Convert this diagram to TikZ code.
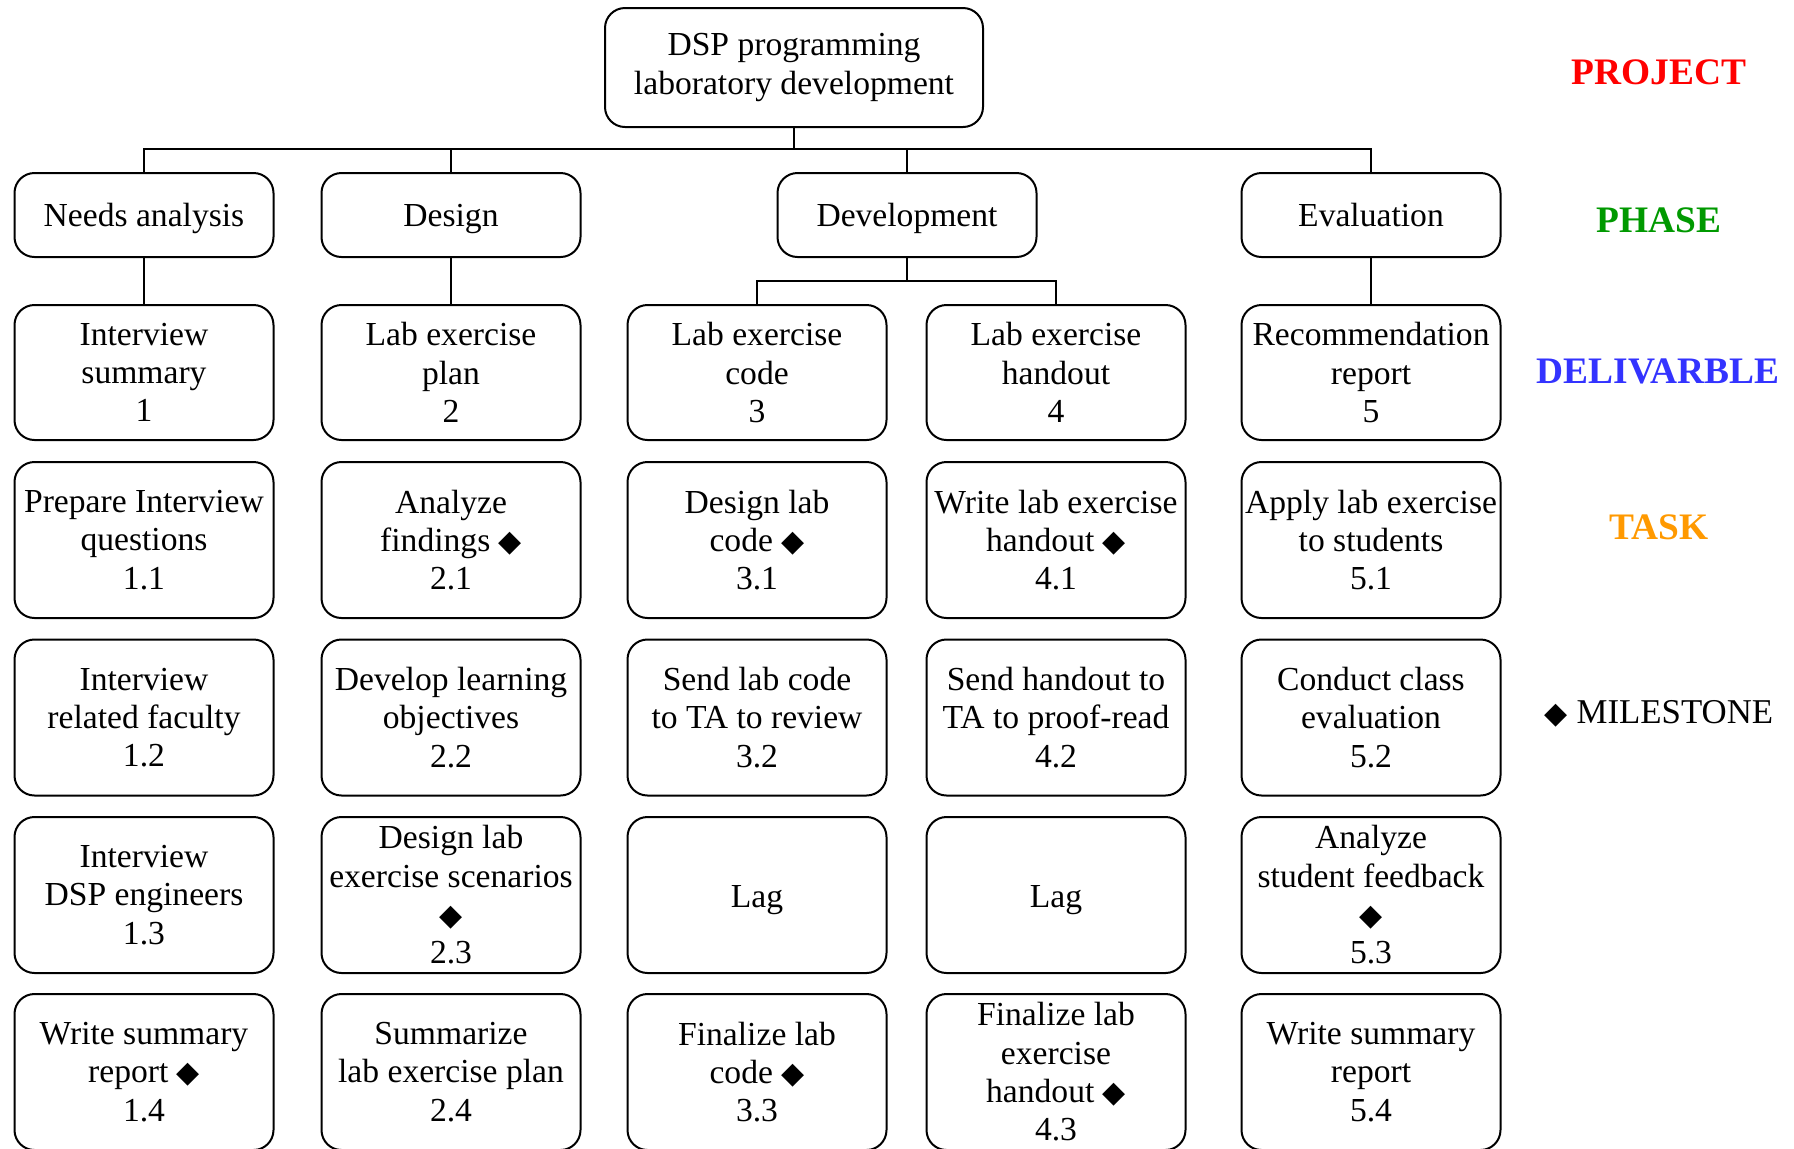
\documentclass[tikz,border=0pt]{standalone}
\usepackage{fontspec}
\setmainfont{Liberation Serif}
\newfontfamily\djv{DejaVu Sans}
\newcommand\dm{{\djv\fontsize{15}{15}\selectfont ◆}}
\definecolor{cproj}{RGB}{255,0,0}
\definecolor{cphase}{RGB}{0,153,0}
\definecolor{cdel}{RGB}{51,51,255}
\definecolor{ctask}{RGB}{255,153,0}
\begin{document}
\begin{tikzpicture}[x=0.5pt,y=-0.5pt,
 box/.style={draw, line width=1pt, rounded corners=10pt, minimum width=129.5pt, inner sep=0pt, align=center, font=\fontsize{16.8}{19.15}\selectfont},
 phasebox/.style={box, minimum height=42pt, text height=13pt, text depth=1.5pt},
 delbox/.style={box, minimum height=67.5pt},
 taskbox/.style={box, minimum height=78pt},
 lagbox/.style={taskbox, text height=15.7pt, text depth=3.7pt},
 conn/.style={line width=0.9pt},
 lab/.style={font=\fontsize{18.7}{22}\selectfont\bfseries}]
\useasboundingbox (0,0) rectangle (1794,1148);
\node[box, minimum width=189pt, minimum height=59.5pt] (top) at (794,67.5) {DSP programming\\laboratory development};
% phases
\node[phasebox] (p1) at (144,215) {Needs analysis};
\node[phasebox] (p2) at (451,215) {Design};
\node[phasebox] (p3) at (907,215) {Development};
\node[phasebox] (p4) at (1371,215) {Evaluation};
% deliverables
\node[delbox] (d1) at (144,372.5) {Interview\\summary\\1};
\node[delbox] (d2) at (451,372.5) {Lab exercise\\plan\\2};
\node[delbox] (d3) at (757,372.5) {Lab exercise\\code\\3};
\node[delbox] (d4) at (1056,372.5) {Lab exercise\\handout\\4};
\node[delbox] (d5) at (1371,372.5) {Recommendation\\report\\5};
% tasks row 1
\node[taskbox] (t11) at (144,540) {Prepare Interview\\questions\\1.1};
\node[taskbox] (t21) at (451,540) {Analyze\\findings \dm\\2.1};
\node[taskbox] (t31) at (757,540) {Design lab\\code \dm\\3.1};
\node[taskbox] (t41) at (1056,540) {Write lab exercise\\handout \dm\\4.1};
\node[taskbox] (t51) at (1371,540) {Apply lab exercise\\to students\\5.1};
% row 2
\node[taskbox] (t12) at (144,717.5) {Interview\\related faculty\\1.2};
\node[taskbox] (t22) at (451,717.5) {Develop learning\\objectives\\2.2};
\node[taskbox] (t32) at (757,717.5) {Send lab code\\to TA to review\\3.2};
\node[taskbox] (t42) at (1056,717.5) {Send handout to\\TA to proof-read\\4.2};
\node[taskbox] (t52) at (1371,717.5) {Conduct class\\evaluation\\5.2};
% row 3
\node[taskbox] (t13) at (144,895) {Interview\\DSP engineers\\1.3};
\node[taskbox] (t23) at (451,895) {Design lab\\exercise scenarios\\\dm\\2.3};
\node[lagbox] (t33) at (757,895) {Lag};
\node[lagbox] (t43) at (1056,895) {Lag};
\node[taskbox] (t53) at (1371,895) {Analyze\\student feedback\\\dm\\5.3};
% row 4
\node[taskbox] (t14) at (144,1072) {Write summary\\report \dm\\1.4};
\node[taskbox] (t24) at (451,1072) {Summarize\\lab exercise plan\\2.4};
\node[taskbox] (t34) at (757,1072) {Finalize lab\\code \dm\\3.3};
\node[taskbox] (t44) at (1056,1072) {Finalize lab\\exercise\\handout \dm\\4.3};
\node[taskbox] (t54) at (1371,1072) {Write summary\\report\\5.4};
% legend
\node[lab, text=cproj] (lproj) at (1659,72) {PROJECT};
\node[lab, text=cphase] (lphase) at (1659,220) {PHASE};
\node[lab, text=cdel] (ldel) at (1658,371) {DELIVARBLE};
\node[lab, text=ctask] (ltask) at (1659,527) {TASK};
\node[font=\fontsize{17.4}{20}\selectfont] (lmile) at (1659,714) {\dm\ MILESTONE};
% connectors
\coordinate (bus) at (0,149);
\coordinate (dbus) at (0,281);
\draw[conn] (top.south) -- (top.south |- bus);
\draw[conn] (p1.north) -- (p1.north |- bus) -- (p4.north |- bus) -- (p4.north);
\draw[conn] (p2.north) -- (p2.north |- bus);
\draw[conn] (p3.north) -- (p3.north |- bus);
\draw[conn] (p1.south) -- (d1.north);
\draw[conn] (p2.south) -- (d2.north);
\draw[conn] (p4.south) -- (d5.north);
\draw[conn] (p3.south) -- (p3.south |- dbus);
\draw[conn] (d3.north) -- (d3.north |- dbus) -- (d4.north |- dbus) -- (d4.north);
\end{tikzpicture}
\end{document}
